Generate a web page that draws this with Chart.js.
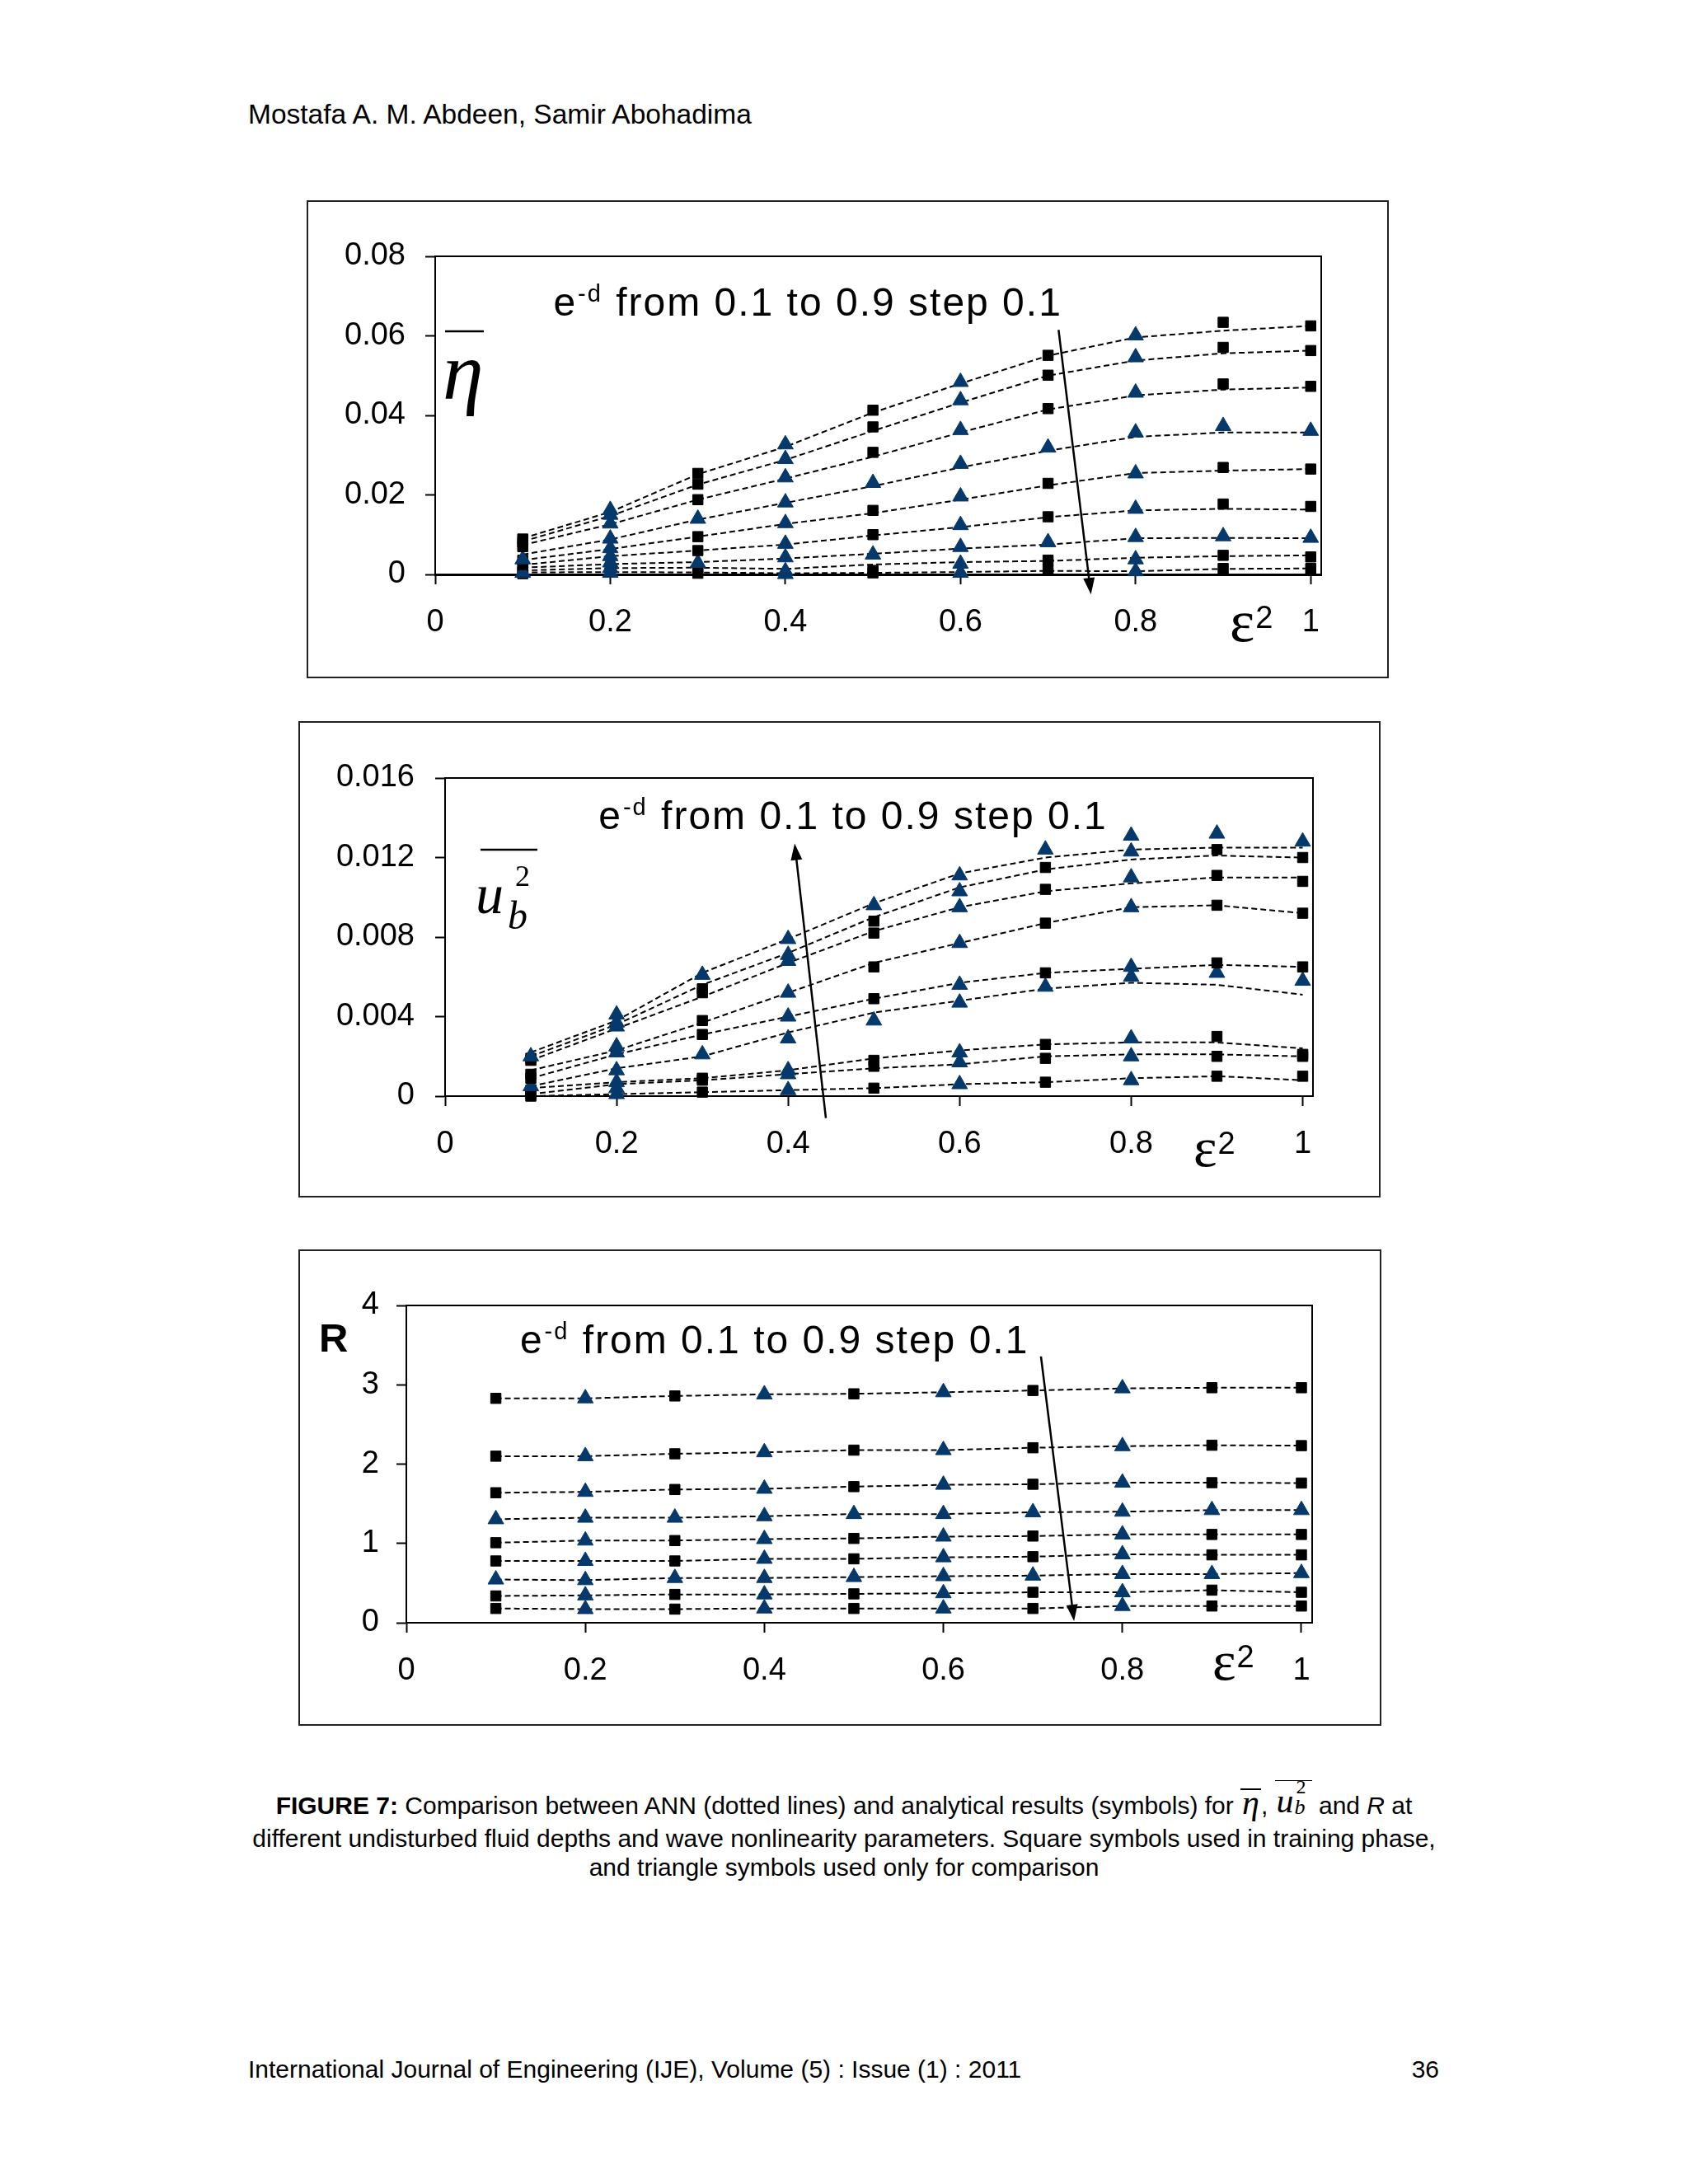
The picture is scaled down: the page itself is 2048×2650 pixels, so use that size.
<!DOCTYPE html>
<html>
<head>
<meta charset="utf-8">
<script src="https://cdn.jsdelivr.net/npm/chart.js@4.4.1/dist/chart.umd.min.js"></script>
<style>
  body { margin: 0; background: #fff; }
  #page { position: relative; width: 2048px; height: 2650px; background: #fff; color: #000;
          font-family: 'Liberation Sans', Arial, Helvetica, sans-serif; overflow: hidden; }
  .box { position: absolute; border: 2px solid #222; box-sizing: border-box; }
  .box canvas { display: block; }
  .txt { position: absolute; white-space: nowrap; line-height: 1; }
  .ctr { left: 0; width: 2048px; text-align: center; }
  .m { font-family: 'Liberation Serif', 'Times New Roman', serif; font-style: italic; }
  .eta { display: inline-block; font-size: 42px; line-height: 0.7; border-top: 2px solid #000; padding: 1px 2px 0 2px; }
  .ub { display: inline-block; position: relative; font-size: 42px; line-height: 0.8; border-top: 1.5px solid #000;
        padding: 8px 22px 0 2px; vertical-align: 2px; }
  .ub .b { position: absolute; left: 24px; top: 22px; font-size: 26px; }
  .ub .two { position: absolute; left: 26px; top: -2px; font-size: 24px; font-style: normal; }
</style>
</head>
<body>
<div id="page">
  <div class="txt" style="left:301px;top:122px;font-size:33.5px">Mostafa A. M. Abdeen, Samir Abohadima</div>

  <div class="box" style="left:372px;top:243px;width:1313px;height:580px"><canvas id="c1" width="1309" height="576"></canvas></div>
  <div class="box" style="left:362px;top:875px;width:1313px;height:578px"><canvas id="c2" width="1309" height="574"></canvas></div>
  <div class="box" style="left:362px;top:1516px;width:1314px;height:578px"><canvas id="c3" width="1310" height="574"></canvas></div>

  <div class="txt ctr" style="top:2160px;font-size:30px"><b>FIGURE 7:</b> Comparison between ANN (dotted lines) and analytical results (symbols) for <span class="m eta">η</span>, <span class="m ub">u<span class="b">b</span><span class="two">2</span></span> and <i>R</i> at</div>
  <div class="txt ctr" style="top:2216px;font-size:30px">different undisturbed fluid depths and wave nonlinearity parameters. Square symbols used in training phase,</div>
  <div class="txt ctr" style="top:2251px;font-size:30px">and triangle symbols used only for comparison</div>

  <div class="txt" style="left:301px;top:2496px;font-size:30px">International Journal of Engineering (IJE), Volume (5) : Issue (1) : 2011</div>
  <div class="txt" style="left:1646px;width:100px;text-align:right;top:2496px;font-size:30px">36</div>
</div>

<script>
const SANS = "'Liberation Sans', Arial, Helvetica, sans-serif";
const SERIF = "'Liberation Serif', 'Times New Roman', serif";

// epsilon^2 positions shared by all three panels
const xValues = [0.1, 0.2, 0.3, 0.4, 0.5, 0.6, 0.7, 0.8, 0.9, 1.0];
const xTickValues = [0, 0.2, 0.4, 0.6, 0.8, 1];
const xTickLabels = ["0", "0.2", "0.4", "0.6", "0.8", "1"];
const depthLabels = ["0.1", "0.2", "0.3", "0.4", "0.5", "0.6", "0.7", "0.8", "0.9"]; // e^-d
const titleText = " from 0.1 to 0.9 step 0.1";

// --- eta bar ---
const etaTicks = [0, 0.02, 0.04, 0.06, 0.08];
const etaTickLabels = ["0", "0.02", "0.04", "0.06", "0.08"];
const etaLines = [
  [0.0091, 0.0157, 0.0252, 0.0321, 0.0407, 0.0480, 0.0550, 0.0596, 0.0613, 0.0625],
  [0.0083, 0.0147, 0.0226, 0.0288, 0.0361, 0.0432, 0.0500, 0.0538, 0.0556, 0.0563],
  [0.0074, 0.0126, 0.0188, 0.0241, 0.0296, 0.0357, 0.0415, 0.0450, 0.0465, 0.0470],
  [0.0050, 0.0088, 0.0138, 0.0180, 0.0222, 0.0269, 0.0311, 0.0346, 0.0357, 0.0357],
  [0.0036, 0.0064, 0.0095, 0.0127, 0.0154, 0.0188, 0.0224, 0.0255, 0.0261, 0.0265],
  [0.0024, 0.0046, 0.0060, 0.0075, 0.0098, 0.0119, 0.0144, 0.0161, 0.0165, 0.0163],
  [0.0017, 0.0026, 0.0031, 0.0040, 0.0052, 0.0065, 0.0075, 0.0091, 0.0092, 0.0091],
  [0.0010, 0.0016, 0.0017, 0.0014, 0.0025, 0.0031, 0.0034, 0.0042, 0.0046, 0.0048],
  [0.0005, 0.0006, 0.0005, 0.0003, 0.0004, 0.0006, 0.0009, 0.0008, 0.0014, 0.0015]
];
const etaSymbols = [
  [0.0089, 0.0162, 0.0254, 0.0327, 0.0413, 0.0484, 0.0551, 0.0601, 0.0634, 0.0625],
  [0.0081, 0.0150, 0.0227, 0.0290, 0.0371, 0.0438, 0.0501, 0.0546, 0.0571, 0.0563],
  [0.0070, 0.0128, 0.0188, 0.0244, 0.0307, 0.0363, 0.0417, 0.0457, 0.0479, 0.0473],
  [0.0038, 0.0090, 0.0140, 0.0181, 0.0230, 0.0278, 0.0319, 0.0357, 0.0373, 0.0361],
  [0.0036, 0.0066, 0.0095, 0.0129, 0.0161, 0.0196, 0.0229, 0.0254, 0.0269, 0.0265],
  [0.0025, 0.0046, 0.0060, 0.0077, 0.0100, 0.0124, 0.0145, 0.0165, 0.0177, 0.0171],
  [0.0004, 0.0030, 0.0029, 0.0043, 0.0050, 0.0069, 0.0081, 0.0094, 0.0096, 0.0092],
  [0.0007, 0.0016, 0.0012, 0.0008, 0.0010, 0.0027, 0.0036, 0.0038, 0.0048, 0.0044],
  [0.0002, 0.0004, 0.0003, 0.0001, 0.0004, 0.0004, 0.0011, 0.0008, 0.0015, 0.0015]
];
// S = square (training), T = triangle (comparison)
const etaKinds = ["STSTSTSTSS", "STSTSTSTSS", "STSTSTSTSS", "TTTTTTTTTT", "STSTSTSTSS",
                  "STSTSTSTSS", "TTTTTTTTTT", "STSTSTSTSS", "STSTSTSTSS"];

// --- u_b^2 bar ---
const ubTicks = [0, 0.004, 0.008, 0.012, 0.016];
const ubTickLabels = ["0", "0.004", "0.008", "0.012", "0.016"];
const ubLines = [
  [0.0022, 0.0038, 0.0062, 0.0079, 0.0097, 0.0112, 0.0120, 0.0124, 0.0125, 0.0125],
  [0.0020, 0.0036, 0.0056, 0.0072, 0.0090, 0.0105, 0.0114, 0.0119, 0.0121, 0.0120],
  [0.0018, 0.0034, 0.0050, 0.0067, 0.0083, 0.0095, 0.0103, 0.0107, 0.0110, 0.0110],
  [0.0013, 0.0023, 0.0037, 0.0052, 0.0067, 0.0077, 0.0087, 0.0095, 0.0096, 0.0092],
  [0.0009, 0.0021, 0.0031, 0.0040, 0.0049, 0.0057, 0.0062, 0.0064, 0.0066, 0.0065],
  [0.0005, 0.0014, 0.0020, 0.0032, 0.0042, 0.0048, 0.0054, 0.0057, 0.0056, 0.0051],
  [0.0004, 0.0007, 0.0009, 0.0013, 0.0019, 0.0023, 0.0026, 0.0027, 0.0027, 0.0024],
  [0.0001, 0.0006, 0.0008, 0.0011, 0.0014, 0.0016, 0.0020, 0.0021, 0.0021, 0.0020],
  [0.0000, 0.0001, 0.0002, 0.0003, 0.0004, 0.0006, 0.0007, 0.0009, 0.0010, 0.0008]
];
const ubSymbols = [
  [0.0020, 0.0041, 0.0061, 0.0079, 0.0096, 0.0111, 0.0124, 0.0131, 0.0132, 0.0128],
  [0.0019, 0.0037, 0.0054, 0.0071, 0.0088, 0.0103, 0.0115, 0.0123, 0.0124, 0.0120],
  [0.0018, 0.0035, 0.0052, 0.0068, 0.0082, 0.0095, 0.0104, 0.0110, 0.0111, 0.0108],
  [0.0011, 0.0025, 0.0038, 0.0052, 0.0065, 0.0077, 0.0087, 0.0095, 0.0096, 0.0092],
  [0.0009, 0.0022, 0.0031, 0.0040, 0.0049, 0.0056, 0.0062, 0.0065, 0.0067, 0.0065],
  [0.0005, 0.0013, 0.0021, 0.0029, 0.0038, 0.0047, 0.0055, 0.0060, 0.0062, 0.0058],
  [0.0003, 0.0007, 0.0009, 0.0013, 0.0018, 0.0022, 0.0026, 0.0029, 0.0030, 0.0021],
  [0.0001, 0.0004, 0.0008, 0.0011, 0.0015, 0.0017, 0.0019, 0.0020, 0.0020, 0.0020],
  [0.0000, 0.0001, 0.0002, 0.0003, 0.0004, 0.0006, 0.0007, 0.0008, 0.0010, 0.0010]
];
const ubKinds = ["TTTTTTTTTT", "STSTSTSTSS", "STSTSTSTSS", "STSTSTSTSS", "STSTSTSTSS",
                 "TTTTTTTTTT", "STSTSTSTSS", "STSTSTSTSS", "STSTSTSTSS"];

// --- R ---
const rTicks = [0, 1, 2, 3, 4];
const rTickLabels = ["0", "1", "2", "3", "4"];
const rValues = [
  [2.829, 2.829, 2.859, 2.879, 2.886, 2.906, 2.928, 2.955, 2.963, 2.963],
  [2.100, 2.100, 2.130, 2.149, 2.176, 2.176, 2.206, 2.226, 2.238, 2.233],
  [1.639, 1.650, 1.680, 1.689, 1.716, 1.739, 1.746, 1.766, 1.766, 1.761],
  [1.305, 1.324, 1.324, 1.343, 1.370, 1.370, 1.393, 1.400, 1.420, 1.420],
  [1.009, 1.036, 1.036, 1.055, 1.063, 1.086, 1.093, 1.113, 1.113, 1.113],
  [0.779, 0.779, 0.779, 0.806, 0.806, 0.825, 0.833, 0.863, 0.856, 0.856],
  [0.545, 0.537, 0.564, 0.564, 0.576, 0.587, 0.594, 0.614, 0.614, 0.626],
  [0.338, 0.345, 0.357, 0.357, 0.364, 0.372, 0.384, 0.384, 0.411, 0.384],
  [0.180, 0.172, 0.172, 0.180, 0.180, 0.180, 0.180, 0.211, 0.211, 0.211]
];
const rKinds = ["STSTSTSTSS", "STSTSTSTSS", "STSTSTSTSS", "TTTTTTTTTT", "STSTSTSTSS",
                "STSTSTSTSS", "TTTTTTTTTT", "STSTSTSTSS", "STSTSTSTSS"];

const NAVY = "#05386b";

function drawArrow(ctx, x0, y0, x1, y1) {
  const a = Math.atan2(y1 - y0, x1 - x0);
  const L = 20, W = 7, c = Math.cos(a), s = Math.sin(a);
  ctx.save();
  ctx.strokeStyle = "#000";
  ctx.fillStyle = "#000";
  ctx.lineWidth = 2.5;
  ctx.beginPath();
  ctx.moveTo(x0, y0);
  ctx.lineTo(x1 - L * c * 0.8, y1 - L * s * 0.8);
  ctx.stroke();
  ctx.beginPath();
  ctx.moveTo(x1, y1);
  ctx.lineTo(x1 - L * c + W * s, y1 - L * s - W * c);
  ctx.lineTo(x1 - L * c - W * s, y1 - L * s + W * c);
  ctx.closePath();
  ctx.fill();
  ctx.restore();
}

function drawTitle(ctx, x, y) {
  ctx.save();
  ctx.fillStyle = "#000";
  ctx.textAlign = "left";
  ctx.textBaseline = "alphabetic";
  if ("letterSpacing" in ctx) ctx.letterSpacing = "2px";
  ctx.font = "48px " + SANS;
  ctx.fillText("e", x, y);
  let cx = x + ctx.measureText("e").width;
  ctx.font = "29px " + SANS;
  ctx.fillText("-d", cx + 1, y - 17);
  cx += ctx.measureText("-d").width + 2;
  ctx.font = "48px " + SANS;
  ctx.fillText(titleText, cx, y);
  ctx.restore();
}

function drawEps(ctx, x, y, y2, size) {
  ctx.font = size + "px " + SERIF;
  ctx.fillText("ε", x, y);
  const w = ctx.measureText("ε").width;
  ctx.font = "38px " + SANS;
  ctx.fillText("2", x + w + 1, y2);
}

function overline(ctx, x0, x1, y, w) {
  ctx.save();
  ctx.lineWidth = w;
  ctx.beginPath();
  ctx.moveTo(x0, y);
  ctx.lineTo(x1, y);
  ctx.stroke();
  ctx.restore();
}

const axisLabels = {
  c1(ctx) {
    overline(ctx, 166, 213, 157, 2.5);
    ctx.font = "italic 100px " + SERIF;
    ctx.fillText("η", 163, 239);
    drawEps(ctx, 1118, 533, 517, 72);
  },
  c2(ctx) {
    overline(ctx, 219, 288, 154, 2.5);
    ctx.font = "italic 68px " + SERIF;
    ctx.fillText("u", 213, 231);
    ctx.font = "italic 48px " + SERIF;
    ctx.fillText("b", 252, 250);
    ctx.font = "36px " + SERIF;
    ctx.fillText("2", 261, 198);
    drawEps(ctx, 1084, 538, 523, 68);
  },
  c3(ctx) {
    ctx.font = "bold 49px " + SANS;
    ctx.fillText("R", 23, 122);
    drawEps(ctx, 1107, 520, 505, 68);
  }
};

function makeChart(cfg) {
  const datasets = [];
  cfg.symbols.forEach((vals, s) => {
    const kinds = cfg.kinds[s].split("");
    datasets.push({
      label: "analytical e-d " + depthLabels[s],
      data: xValues.map((x, i) => ({ x: x, y: vals[i] })),
      showLine: false,
      order: 0,
      clip: false,
      pointStyle: kinds.map(k => k === "T" ? "triangle" : "rect"),
      pointRadius: kinds.map(k => k === "T" ? 11 : 8.8),
      pointBackgroundColor: kinds.map(k => k === "T" ? NAVY : "#000"),
      pointBorderColor: kinds.map(k => k === "T" ? NAVY : "#000"),
      pointBorderWidth: 1
    });
  });
  cfg.lines.forEach((vals, s) => {
    datasets.push({
      label: "ANN e-d " + depthLabels[s],
      data: xValues.map((x, i) => ({ x: x, y: vals[i] })),
      showLine: true,
      order: 1,
      clip: false,
      borderColor: "#000",
      borderWidth: 2,
      borderDash: [7, 4],
      pointRadius: 0,
      fill: false
    });
  });

  const tickFont = { family: SANS, size: 38 };

  const frame = {
    id: "frame",
    beforeDatasetsDraw(chart) {
      const a = chart.chartArea, ctx = chart.ctx;
      ctx.save();
      ctx.strokeStyle = "#000";
      ctx.lineWidth = 2;
      ctx.beginPath();
      ctx.moveTo(a.left, a.top);
      ctx.lineTo(a.right, a.top);
      ctx.lineTo(a.right, a.bottom);
      ctx.stroke();
      ctx.restore();
    },
    afterDatasetsDraw(chart) {
      const ctx = chart.ctx, xs = chart.scales.x, ys = chart.scales.y;
      drawTitle(ctx, xs.getPixelForValue(cfg.title[0]), ys.getPixelForValue(cfg.title[1]));
      drawArrow(ctx,
        xs.getPixelForValue(cfg.arrow[0][0]), ys.getPixelForValue(cfg.arrow[0][1]),
        xs.getPixelForValue(cfg.arrow[1][0]), ys.getPixelForValue(cfg.arrow[1][1]));
      ctx.save();
      ctx.fillStyle = "#000";
      ctx.strokeStyle = "#000";
      ctx.textAlign = "left";
      ctx.textBaseline = "alphabetic";
      axisLabels[cfg.id](ctx);
      ctx.restore();
    }
  };

  return new Chart(document.getElementById(cfg.id).getContext("2d"), {
    type: "scatter",
    data: { datasets },
    options: {
      responsive: false,
      animation: false,
      events: [],
      devicePixelRatio: 1,
      layout: { padding: cfg.padding },
      plugins: { legend: { display: false }, tooltip: { enabled: false } },
      scales: {
        x: {
          type: "linear",
          min: 0,
          max: 1.012,
          afterBuildTicks: scale => { scale.ticks = xTickValues.map(v => ({ value: v })); },
          afterFit: scale => { scale.height = 80; },
          ticks: {
            callback: (v, i) => xTickLabels[i],
            font: tickFont,
            color: "#000",
            padding: cfg.xPad,
            maxRotation: 0,
            autoSkip: false
          },
          grid: { drawOnChartArea: false, drawTicks: true, tickLength: 12, tickWidth: 2, tickColor: "#000", color: "#000" },
          border: { display: true, color: "#000", width: cfg.zeroWidth }
        },
        y: {
          type: "linear",
          min: 0,
          max: cfg.yTicks[cfg.yTicks.length - 1],
          afterBuildTicks: scale => { scale.ticks = cfg.yTicks.map(v => ({ value: v })); },
          afterFit: scale => { scale.width = cfg.yAxisWidth; },
          ticks: {
            callback: (v, i) => cfg.yTickLabels[i],
            font: tickFont,
            color: "#000",
            padding: cfg.yPad,
            autoSkip: false
          },
          grid: { drawOnChartArea: false, drawTicks: true, tickLength: 12, tickWidth: 2, tickColor: "#000", color: "#000" },
          border: { display: true, color: "#000", width: 2 }
        }
      }
    },
    plugins: [frame]
  });
}

makeChart({
  id: "c1", lines: etaLines, symbols: etaSymbols, kinds: etaKinds,
  yTicks: etaTicks, yTickLabels: etaTickLabels, yAxisWidth: 150,
  padding: { left: 4, right: 80, top: 66, bottom: 44 }, yPad: 24, xPad: 24, zeroWidth: 3,
  title: [0.135, 0.065], arrow: [[0.712, 0.0615], [0.749, -0.005]]
});
makeChart({
  id: "c2", lines: ubLines, symbols: ubSymbols, kinds: ubKinds,
  yTicks: ubTicks, yTickLabels: ubTickLabels, yAxisWidth: 170,
  padding: { left: 6, right: 80, top: 67, bottom: 41 }, yPad: 25, xPad: 24, zeroWidth: 2,
  title: [0.179, 0.01343], arrow: [[0.444, -0.0011], [0.4076, 0.0127]]
});
makeChart({
  id: "c3", lines: rValues, symbols: rValues, kinds: rKinds,
  yTicks: rTicks, yTickLabels: rTickLabels, yAxisWidth: 120,
  padding: { left: 9, right: 82, top: 66, bottom: 43 }, yPad: 21, xPad: 24, zeroWidth: 2,
  title: [0.127, 3.394], arrow: [[0.709, 3.358], [0.746, 0.02]]
});
</script>
</body>
</html>
